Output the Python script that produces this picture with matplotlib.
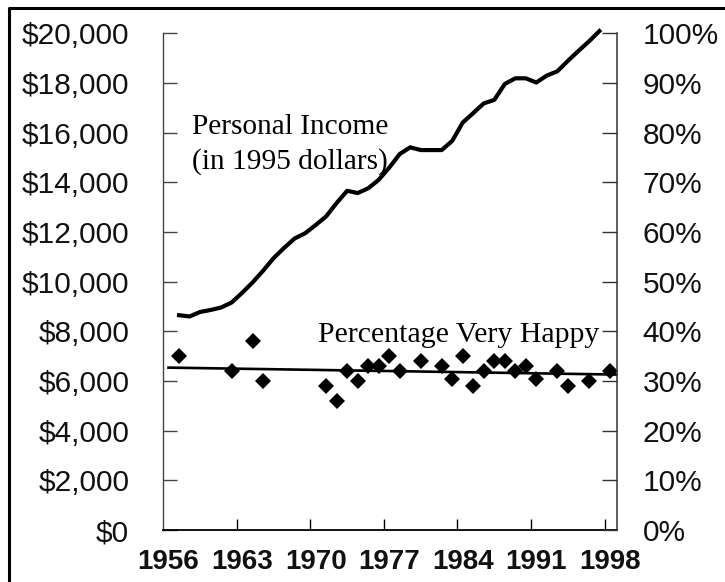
import matplotlib
matplotlib.use("Agg")
import matplotlib.pyplot as plt
from matplotlib.lines import Line2D

plt.rcParams['font.family'] = ['Liberation Sans', 'DejaVu Sans']

# personal income per person, 1995 dollars
income_years = list(range(1957, 1998))
income = [8650, 8600, 8780, 8860, 8960, 9160, 9550, 9970, 10440, 10950,
          11360, 11740, 11950, 12280, 12630, 13170, 13660, 13570, 13760, 14100,
          14590, 15140, 15410, 15300, 15300, 15300, 15670, 16410, 16790, 17180,
          17320, 17960, 18190, 18190, 18020, 18300, 18470, 18890, 19290, 19670,
          20090]

# percentage "very happy"
happy_years = [1957, 1962, 1964, 1965, 1971, 1972, 1973, 1974, 1975, 1976,
               1977, 1978, 1980, 1982, 1983, 1984, 1985, 1986, 1987, 1988,
               1989, 1990, 1991, 1993, 1994, 1996, 1998]
happy_pct = [35, 32, 38, 30, 29, 26, 32, 30, 33, 33,
             35, 32, 34, 33, 30.5, 35, 29, 32, 34, 34,
             32, 33, 30.5, 32, 29, 30, 32]

# trend line through the happiness points
trend_years = [1956, 1998.6]
trend_pct = [32.7, 31.3]

label_years = [1956, 1963, 1970, 1977, 1984, 1991, 1998]
income_ticks = list(range(0, 20001, 2000))
pct_ticks = list(range(0, 101, 10))

fig = plt.figure(figsize=(7.25, 5.82), dpi=100)
ax = fig.add_axes([0.2252, 0.0893, 0.6254, 0.8534])
ax2 = ax.twinx()

ax.plot(income_years, income, color='black', lw=3.0, clip_on=False,
        solid_joinstyle='round', zorder=3)
ax2.plot(trend_years, trend_pct, color='black', lw=1.9, clip_on=False)
ax2.plot(happy_years, happy_pct, 'D', ms=8, mew=0, color='black', clip_on=False)

ax.set_xlim(1955.5, 1998.65)
ax.set_ylim(0, 20000)
ax2.set_ylim(0, 100)

# spines
ax.spines['top'].set_visible(False)
ax.spines['right'].set_visible(False)
ax2.spines['top'].set_visible(False)
ax2.spines['left'].set_visible(False)
ax2.spines['bottom'].set_visible(False)
ax.spines['left'].set_color('#444444')
ax.spines['left'].set_linewidth(1.0)
ax.spines['bottom'].set_linewidth(1.3)
ax2.spines['right'].set_color('#333333')
ax2.spines['right'].set_linewidth(1.1)

# left axis
ax.set_yticks(income_ticks)
ax.set_yticklabels(['${:,}'.format(v) for v in income_ticks])
ax.tick_params(axis='y', direction='in', length=10, width=1, pad=24.5,
               labelsize=21.5, color='#444444', labelcolor='#111111')

# right axis
ax2.set_yticks(pct_ticks)
ax2.set_yticklabels(['{}%'.format(v) for v in pct_ticks])
ax2.tick_params(axis='y', direction='in', length=11, width=1, pad=18.7,
                labelsize=21.5, color='#333333', labelcolor='#111111')

# x axis: marks sit half a year before the labelled years
ax.set_xticks([y - 0.5 for y in label_years[1:]])
ax.set_xticklabels([])
ax.set_xticks(label_years, minor=True)
ax.set_xticklabels([str(y) for y in label_years], minor=True,
                   fontweight='bold')
ax.tick_params(axis='x', which='major', direction='in', length=8, width=1)
ax.tick_params(axis='x', which='minor', length=0, pad=13.5, labelsize=20,
               labelcolor='#111111')

ax.text(1958.2, 16750, 'Personal Income\n(in 1995 dollars)',
        family='Liberation Serif', fontsize=21.2, va='top', ha='left',
        linespacing=1.4)
ax2.text(1970.26, 37.9, 'Percentage Very Happy', family='Liberation Serif',
         fontsize=21.5, va='baseline', ha='left')

# frame around the figure (cut off at right and bottom)
fig.add_artist(Line2D([8.5 / 725, 8.5 / 725, 1], [0, 1 - 7.5 / 582, 1 - 7.5 / 582],
                      transform=fig.transFigure, color='black', lw=2.2))

fig.savefig('out.png', dpi=100)
